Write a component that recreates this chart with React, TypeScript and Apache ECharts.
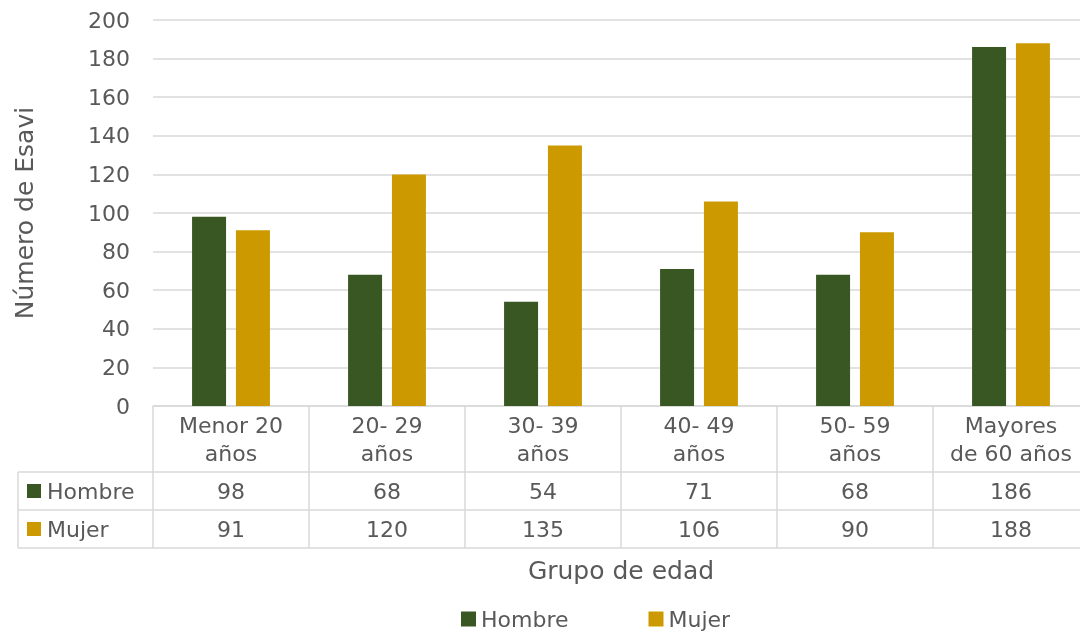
import React, { useEffect, useRef } from "react";
import * as echarts from "echarts";

const categories = ["Menor 20\naños", "20- 29\naños", "30- 39\naños", "40- 49\naños", "50- 59\naños", "Mayores\nde 60 años"];
const hombre = [98, 68, 54, 71, 68, 186];
const mujer = [91, 120, 135, 106, 90, 188];
const seriesNames = ["Hombre", "Mujer"];
const yTicks = { min: 0, max: 200, interval: 20 };

const GREEN = "#385723";
const GOLD = "#CC9A00";
const TXT = "#595959";
const LINE = "#d9d9d9";
const FONT = "DejaVu Sans";

const GRID_LEFT = 153;
const GRID_TOP = 20;
const GRID_W = 936;
const GRID_H = 386;
const HEADER_H = 66;
const ROW_H = 38;
const TABLE_LEFT = 18;

export default function App() {
  const ref = useRef<HTMLDivElement>(null);
  useEffect(() => {
    const chart = echarts.init(ref.current!, null, { renderer: "svg" });
    const n = categories.length;
    const colW = GRID_W / n;
    const base = GRID_TOP + GRID_H;
    const right = GRID_LEFT + GRID_W;
    const r1 = base + HEADER_H;
    const r2 = r1 + ROW_H;
    const r3 = r2 + ROW_H;
    const lineStyle = { stroke: LINE, lineWidth: 1.5 };
    const graphics: any[] = [];
    for (let i = 0; i <= n; i++) {
      const x = GRID_LEFT + i * colW;
      graphics.push({ type: "line", shape: { x1: x, y1: base, x2: x, y2: r3 }, style: lineStyle, silent: true });
    }
    graphics.push({ type: "line", shape: { x1: TABLE_LEFT, y1: r1, x2: TABLE_LEFT, y2: r3 }, style: lineStyle });
    [r1, r2, r3].forEach((y) =>
      graphics.push({ type: "line", shape: { x1: TABLE_LEFT, y1: y, x2: right, y2: y }, style: lineStyle })
    );
    [
      { name: seriesNames[0], color: GREEN, y: r1 },
      { name: seriesNames[1], color: GOLD, y: r2 },
    ].forEach((r) => {
      graphics.push({ type: "rect", shape: { x: 27, y: r.y + ROW_H / 2 - 7, width: 14, height: 14 }, style: { fill: r.color } });
      graphics.push({
        type: "text",
        x: 47,
        y: r.y + ROW_H / 2,
        style: { text: r.name, fill: TXT, font: `22px "${FONT}"`, textVerticalAlign: "middle", verticalAlign: "middle" },
      });
    });

    const tableAxis = (vals: number[], offset: number) => ({
      type: "category",
      position: "bottom",
      offset,
      data: vals.map((v) => String(v)),
      axisLine: { show: false },
      axisTick: { show: false },
      splitLine: { show: false },
      axisLabel: { color: TXT, fontFamily: FONT, fontSize: 22, margin: 0, lineHeight: ROW_H, interval: 0 },
    });

    chart.setOption({
      animation: false,
      textStyle: { fontFamily: FONT },
      grid: { left: GRID_LEFT, top: GRID_TOP, width: GRID_W, height: GRID_H, containLabel: false, outerBoundsMode: "none" },
      legend: {
        data: seriesNames,
        left: 456,
        top: 603,
        icon: "rect",
        itemWidth: 15,
        itemHeight: 15,
        itemGap: 80,
        textStyle: { color: TXT, fontFamily: FONT, fontSize: 22 },
      },
      xAxis: [
        {
          type: "category",
          data: categories,
          axisLine: { show: true, lineStyle: { color: LINE, width: 1.5 } },
          axisTick: { show: false },
          axisLabel: { color: TXT, fontFamily: FONT, fontSize: 22, lineHeight: 28, margin: 5, interval: 0 },
          name: "Grupo de edad",
          nameLocation: "middle",
          nameGap: 152,
          nameTextStyle: { color: TXT, fontFamily: FONT, fontSize: 25 },
        },
        tableAxis(hombre, HEADER_H),
        tableAxis(mujer, HEADER_H + ROW_H),
      ],
      yAxis: {
        type: "value",
        min: yTicks.min,
        max: yTicks.max,
        interval: yTicks.interval,
        axisLine: { show: false },
        axisTick: { show: false },
        axisLabel: { color: TXT, fontFamily: FONT, fontSize: 22, margin: 23 },
        splitLine: { lineStyle: { color: LINE, width: 1.5 } },
        name: "Número de Esavi",
        nameLocation: "middle",
        nameGap: 116,
        nameRotate: 90,
        nameTextStyle: { color: TXT, fontFamily: FONT, fontSize: 25 },
      },
      series: [
        { name: seriesNames[0], type: "bar", data: hombre, barWidth: 34, barGap: "29%", itemStyle: { color: GREEN } },
        { name: seriesNames[1], type: "bar", data: mujer, barWidth: 34, barGap: "29%", itemStyle: { color: GOLD } },
      ],
      graphic: graphics,
    });
    return () => chart.dispose();
  }, []);
  return (
    <div style={{ position: "fixed", left: 0, top: 0, width: 1080, height: 632, overflow: "hidden" }}>
      <div ref={ref} style={{ width: 1110, height: 632 }} />
    </div>
  );
}
